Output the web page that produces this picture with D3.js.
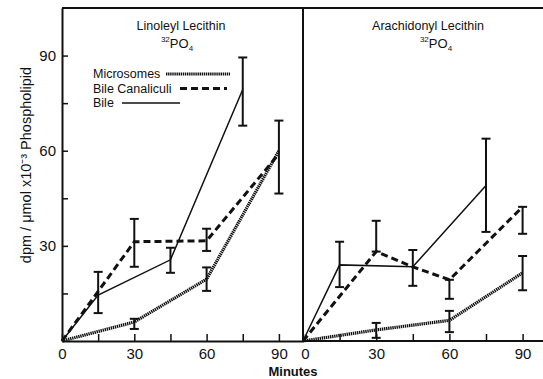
<!DOCTYPE html>
<html>
<head>
<meta charset="utf-8">
<script src="https://cdn.jsdelivr.net/npm/d3@7"></script>
<style>
  body { margin: 0; background: #fff; }
  svg { font-family: 'Liberation Sans', Arial, sans-serif; }
  .axis path, .axis line { stroke: #111; }
  .axis text { fill: #111; }
</style>
</head>
<body>
<svg id="chart" width="543" height="379"></svg>
<script>
// values (minutes, dpm/umol x10^-3)
const tickMinutes = [0, 15, 30, 45, 60, 75, 90]
const tickLabelMinutes = [0, 30, 60, 90]
const tickValues = [15, 30, 45, 60, 75, 90]
const tickLabelValues = [30, 60, 90]

const linoleylMicrosomes = [[0, 0], [30, 6], [60, 19.5], [90, 60]]
const linoleylCanaliculi = [[0, 0], [30, 31.3], [60, 31.6], [90, 59]]
const linoleylBile = [[0, 0], [15, 14.5], [45, 25.6], [75, 79.3]]

// error bars: [minute, low, high]
const linoleylMicrosomesErr = [[30, 3.8, 7], [60, 15.8, 23.2]]
const linoleylCanaliculiErr = [[30, 23.4, 38.5], [60, 28.4, 35.4], [90, 46.5, 69.5]]
const linoleylBileErr = [[15, 8.8, 21.8], [45, 21.5, 29.4], [75, 67.9, 89.4]]

const arachidonylMicrosomes = [[0, 0], [30, 3.5], [60, 6.5], [90, 21.5]]
const arachidonylCanaliculi = [[0, 0], [30, 28.2], [45, 23.4], [60, 19.3], [90, 42.3]]
const arachidonylBile = [[0, 0], [15, 24], [45, 23.4], [75, 49]]

const arachidonylMicrosomesErr = [[30, 1, 5.7], [60, 2.8, 9.5], [90, 16, 26.8]]
const arachidonylCanaliculiErr = [[30, 28.2, 37.9], [60, 13.3, 19.3], [90, 33.8, 42.3]]
const arachidonylBileErr = [[15, 17, 31.3], [45, 17.4, 28.7], [75, 34.4, 63.8]]

const legendLabels = ['Microsomes', 'Bile Canaliculi', 'Bile']

const ink = '#111'
const styles = {
  microsomes: { width: 3.2, dash: '1.4,0.7' },
  canaliculi: { width: 3, dash: '7,4' },
  bile: { width: 1.5, dash: null }
}

const svg = d3.select('#chart')
const y = d3.scaleLinear().domain([0, 105]).range([341, 8])

const panels = [
  {
    title: 'Linoleyl Lecithin', tx: 181, px: 177,
    x: d3.scaleLinear().domain([0, 100]).range([62, 303]),
    series: [
      { key: 'microsomes', data: linoleylMicrosomes, err: linoleylMicrosomesErr },
      { key: 'canaliculi', data: linoleylCanaliculi, err: linoleylCanaliculiErr },
      { key: 'bile', data: linoleylBile, err: linoleylBileErr }
    ]
  },
  {
    title: 'Arachidonyl Lecithin', tx: 428, px: 436,
    x: d3.scaleLinear().domain([0, 100]).range([303, 547]),
    series: [
      { key: 'microsomes', data: arachidonylMicrosomes, err: arachidonylMicrosomesErr },
      { key: 'canaliculi', data: arachidonylCanaliculi, err: arachidonylCanaliculiErr },
      { key: 'bile', data: arachidonylBile, err: arachidonylBileErr }
    ]
  }
]

// frame: top line and panel divider
svg.append('line').attr('x1', 62).attr('x2', 543).attr('y1', y(105)).attr('y2', y(105))
  .attr('stroke', ink).attr('stroke-width', 2)
svg.append('line').attr('x1', 303).attr('x2', 303).attr('y1', y(105)).attr('y2', y(0))
  .attr('stroke', ink).attr('stroke-width', 2)

panels.forEach(function (p, i) {
  const g = svg.append('g')

  // right panel shares the divider, so its axis also labels 0
  const xAxis = d3.axisBottom(p.x).tickValues(tickMinutes)
    .tickSizeInner(-7).tickSizeOuter(0).tickPadding(7)
    .tickFormat(d => tickLabelMinutes.includes(d) ? d : '')
  const ax = g.append('g').attr('class', 'axis').attr('transform', 'translate(0,' + y(0) + ')').call(xAxis)
  ax.select('.domain').attr('stroke-width', 2)
  ax.selectAll('line').attr('stroke-width', 1.5)
  ax.selectAll('text').attr('font-size', 15)
  if (i === 1) {
    ax.select('.domain').attr('d', 'M' + p.x(0) + ',0H543')
    ax.selectAll('.tick').filter(d => d === 0).select('text').attr('x', 2)
  }

  if (i === 0) {
    const yAxis = d3.axisLeft(y).tickValues(tickValues)
      .tickSizeInner(-6).tickSizeOuter(0).tickPadding(6)
      .tickFormat(d => tickLabelValues.includes(d) ? d : '')
    const ay = g.append('g').attr('class', 'axis').attr('transform', 'translate(' + p.x(0) + ',0)').call(yAxis)
    ay.select('.domain').attr('stroke-width', 2)
    ay.selectAll('line').attr('stroke-width', 1.5)
    ay.selectAll('text').attr('font-size', 15)
  }

  g.append('text').attr('x', p.tx).attr('y', 30).attr('text-anchor', 'middle')
    .attr('font-size', 12.5).attr('fill', ink).text(p.title)
  const iso = g.append('text').attr('x', p.px).attr('y', 48).attr('text-anchor', 'middle')
    .attr('font-size', 13).attr('fill', ink)
  iso.append('tspan').attr('font-size', 8).attr('dy', -6).text('32')
  iso.append('tspan').attr('dy', 6).text('PO')
  iso.append('tspan').attr('font-size', 8).attr('dy', 3).text('4')

  const line = d3.line().x(d => p.x(d[0])).y(d => y(d[1]))

  p.series.forEach(function (s) {
    const st = styles[s.key]
    g.append('path').datum(s.data).attr('d', line).attr('fill', 'none')
      .attr('stroke', ink).attr('stroke-width', st.width)
      .attr('stroke-dasharray', st.dash)

    const eb = g.selectAll(null).data(s.err).enter().append('g')
    eb.append('line').attr('x1', d => p.x(d[0])).attr('x2', d => p.x(d[0]))
      .attr('y1', d => y(d[1])).attr('y2', d => y(d[2]))
      .attr('stroke', ink).attr('stroke-width', 2)
    ;[1, 2].forEach(function (k) {
      eb.append('line').attr('x1', d => p.x(d[0]) - 4.5).attr('x2', d => p.x(d[0]) + 4.5)
        .attr('y1', d => y(d[k])).attr('y2', d => y(d[k]))
        .attr('stroke', ink).attr('stroke-width', 2)
    })
  })
})

// legend inside the left panel
const legend = svg.append('g')
const legendKeys = ['microsomes', 'canaliculi', 'bile']
const legendLine = [[166, 230], [180, 227], [122, 180]]
legendLabels.forEach(function (label, i) {
  const yy = 78 + i * 14.5
  legend.append('text').attr('x', 93).attr('y', yy).attr('font-size', 12.5)
    .attr('fill', ink).text(label)
  const st = styles[legendKeys[i]]
  legend.append('line').attr('x1', legendLine[i][0]).attr('x2', legendLine[i][1])
    .attr('y1', yy - 4).attr('y2', yy - 4)
    .attr('stroke', ink).attr('stroke-width', st.width).attr('stroke-dasharray', st.dash)
})

// axis titles
svg.append('text').attr('transform', 'translate(31,165) rotate(-90)')
  .attr('text-anchor', 'middle').attr('font-size', 14.5).attr('fill', ink)
  .text('dpm / \u03bcmol x10\u207b\u00b3 Phospholipid')
svg.append('text').attr('x', 293).attr('y', 376).attr('text-anchor', 'middle')
  .attr('font-size', 13).attr('font-weight', 'bold').attr('fill', ink).text('Minutes')
</script>
</body>
</html>
